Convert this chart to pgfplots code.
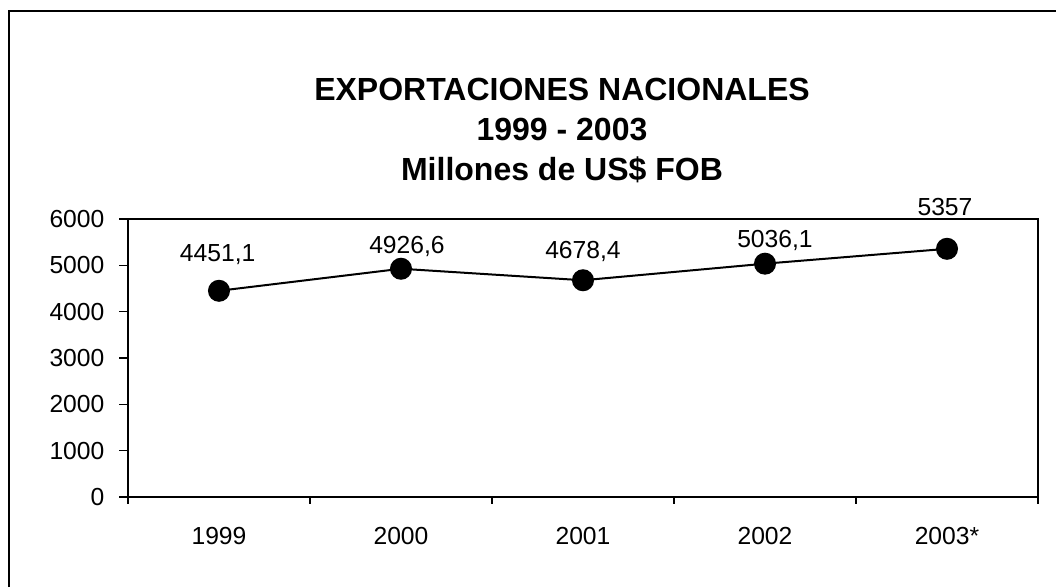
\documentclass[border=0pt]{standalone}
\usepackage{pgfplots}
\pgfplotsset{compat=1.18}
\usepackage{fontspec}
\setmainfont{Liberation Sans}
\begin{document}
\begin{tikzpicture}
\path[use as bounding box] (0pt,0pt) rectangle (792pt,-440.25pt);
\draw[line width=1.5pt] (6.75pt,-440.25pt) -- (6.75pt,-8.25pt) -- (792pt,-8.25pt);
\node[anchor=base,font=\fontsize{24}{29}\selectfont\bfseries] at (421.5pt,-75pt) {EXPORTACIONES NACIONALES};
\node[anchor=base,font=\fontsize{24}{29}\selectfont\bfseries] at (421.5pt,-105pt) {1999 - 2003};
\node[anchor=base,font=\fontsize{24}{29}\selectfont\bfseries] at (421.5pt,-135pt) {Millones de US\$ FOB};
\begin{axis}[
  at={(96pt,-372.75pt)}, anchor=south west,
  scale only axis, width=682.5pt, height=208.5pt,
  xmin=-0.5, xmax=4.5, ymin=0, ymax=6000,
  xtick={0,1,2,3,4},
  xticklabels={1999,2000,2001,2002,2003*},
  minor xtick={-0.5,0.5,1.5,2.5,3.5,4.5},
  ytick={0,1000,2000,3000,4000,5000,6000},
  tick pos=left, tick align=outside,
  major x tick style={draw=none},
  major tick length=6.5pt, minor tick length=5pt,
  tick style={line width=0.8pt, black},
  axis line style={line width=1.3pt},
  /pgf/number format/1000 sep={},
  /pgf/number format/assume math mode=true,
  ticklabel style={font=\fontsize{18.5}{22}\selectfont},
  xticklabel style={anchor=base, yshift=-28.75pt},
  yticklabel style={anchor=east, inner sep=0pt, xshift=-11pt},
  clip=false,
]
\addplot[black, line width=1.5pt, mark=*, mark size=7.5pt,
  mark options={fill=black},
  point meta=explicit symbolic,
  visualization depends on={value \thisrow{dx}\as\dx},
  visualization depends on={value \thisrow{dy}\as\dy},
  nodes near coords,
  every node near coord/.append style={anchor=base, inner sep=0pt,
     xshift=\dx pt, yshift=\dy pt, font=\fontsize{18.5}{22}\selectfont, black},
] table[x=x, y=y, meta=label] {
x y label dx dy
0 4451.1 4451,1 -1 21.75
1 4926.6 4926,6 4.5 11.75
2 4678.4 4678,4 0 16.25
3 5036.1 5036,1 7.5 12.5
4 5357 5357 -1.5 24.75
};
\end{axis}
\end{tikzpicture}
\end{document}
